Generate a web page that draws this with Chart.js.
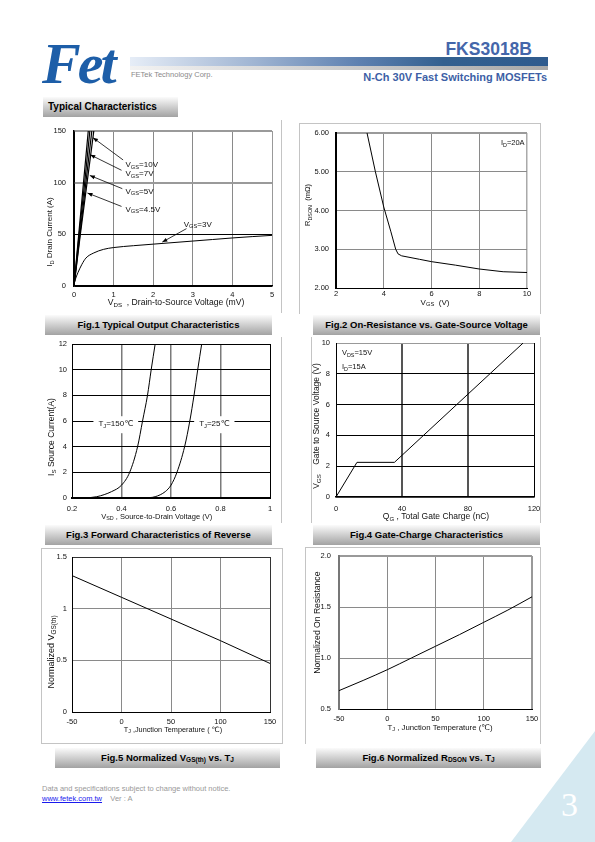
<!DOCTYPE html>
<html>
<head>
<meta charset="utf-8">
<script src="https://cdn.jsdelivr.net/npm/chart.js@4.4.1/dist/chart.umd.min.js"></script>
<style>
  body { margin: 0; width: 595px; height: 842px; position: relative; overflow: hidden; background: #fff;
         font-family: "Liberation Sans", Arial, sans-serif; }
  .a { position: absolute; white-space: nowrap; }
  .cap { position: absolute; height: 20px; line-height: 20px; background: linear-gradient(#fbfbfb, #a2a2a2);
         font-weight: bold; font-size: 9.5px; text-align: center; color: #000; }
  .cap sub { font-size: 6.5px; vertical-align: -1px; line-height: 0; }
  .fr { position: absolute; border: 0 solid #c4c4c4; }
  canvas { position: absolute; }
</style>
</head>
<body>

<!-- cabecera -->
<div class="a" style="left:42px;top:30px;font:italic bold 58px 'Liberation Serif',serif;color:#1d5ea8;letter-spacing:-3px;">Fet</div>
<div class="a" style="left:130px;top:57px;width:418px;height:9px;background:linear-gradient(to right,#e6edf7,#9fb4d2 30%,#5d80b0 55%,#33608f 75%,#2f5b8e);"></div>
<div class="a" style="left:130px;top:66px;width:418px;height:4px;background:linear-gradient(to right,#f2f2f2,#a8a8a8);"></div>
<div class="a" style="left:131px;top:70px;font-size:7.5px;color:#8a8a8a;">FETek Technology Corp.</div>
<div class="a" style="right:63px;top:39px;font-size:17.5px;font-weight:bold;color:#4466aa;">FKS3018B</div>
<div class="a" style="right:48px;top:71px;font-size:11px;font-weight:bold;color:#3d5fa6;">N-Ch 30V Fast Switching MOSFETs</div>

<div class="cap" style="left:43px;top:97px;width:135px;text-align:left;font-size:10px;"><span style="padding-left:5px">Typical Characteristics</span></div>

<!-- marcos -->
<div class="fr" style="left:281px;top:120px;height:193px;border-left-width:1px;"></div>
<div class="fr" style="left:299px;top:123px;width:240px;height:190px;border-width:1px 1px 0 1px;"></div>
<div class="fr" style="left:281px;top:337px;height:186px;border-left-width:1px;"></div>
<div class="fr" style="left:311px;top:337px;width:228px;height:186px;border-width:0 1px 0 1px;"></div>
<div class="fr" style="left:41px;top:548px;width:240px;height:194px;border-width:1px;"></div>
<div class="fr" style="left:305px;top:547px;width:234px;height:196px;border-width:1px 1px 0 1px;"></div>

<div class="cap" style="left:45px;top:315px;width:227px;">Fig.1 Typical Output Characteristics</div>
<div class="cap" style="left:313px;top:315px;width:227px;">Fig.2 On-Resistance vs. Gate-Source Voltage</div>
<div class="cap" style="left:45px;top:525px;width:227px;">Fig.3 Forward Characteristics of Reverse</div>
<div class="cap" style="left:313px;top:525px;width:227px;">Fig.4 Gate-Charge Characteristics</div>
<div class="cap" style="left:55px;top:748px;width:225px;">Fig.5 Normalized V<sub>GS(th)</sub> vs. T<sub>J</sub></div>
<div class="cap" style="left:316px;top:748px;width:225px;">Fig.6 Normalized R<sub>DSON</sub> vs. T<sub>J</sub></div>

<!-- pie -->
<div class="a" style="left:42px;top:784px;font-size:7.5px;color:#999;">Data and specifications subject to change without notice.</div>
<div class="a" style="left:42px;top:794px;font-size:7.5px;color:#999;"><span style="color:#1a1aee;text-decoration:underline;">www.fetek.com.tw</span>&nbsp;&nbsp;&nbsp; Ver : A</div>
<div class="a" style="left:511px;top:731px;width:84px;height:111px;background:#d5e9f1;clip-path:polygon(100% 0,100% 100%,0 100%);"></div>
<div class="a" style="left:561px;top:786px;font:34px 'Liberation Serif',serif;color:#fff;">3</div>

<script>
const FONT = '"Liberation Sans", "DejaVu Sans", Arial, sans-serif';

/* Fig.1  VDS (mV) -> ID (A) */
const idVgs10 = [[0, 0], [0.12, 50], [0.24, 100], [0.36, 150]];
const idVgs7 = [[0, 0], [0.13, 50], [0.27, 100], [0.40, 150]];
const idVgs5 = [[0, 0], [0.15, 50], [0.30, 100], [0.45, 150]];
const idVgs45 = [[0, 0], [0.16, 50], [0.33, 100], [0.50, 150]];
const idVgs3 = [[0, 2], [0.03, 6], [0.1, 13], [0.2, 21], [0.3, 27], [0.5, 32], [0.75, 35.5], [1, 37.2],
                [1.5, 39], [2, 40.5], [2.5, 42], [3, 43.5], [3.5, 45], [4, 46.5], [4.5, 47.8], [5, 49]];

/* Fig.2  VGS (V) -> RDSON (mOhm) */
const rdsVgs = [3.3, 3.65, 4.0, 4.3, 4.5, 4.6, 4.75, 5.5, 6, 7, 8, 9, 10];
const rdsVal = [6.0, 5.0, 4.09, 3.45, 3.0, 2.88, 2.83, 2.74, 2.68, 2.59, 2.49, 2.42, 2.4];

/* Fig.3  IS (A) against VSD (V) */
const isCurrent = [0, 0.1, 0.5, 1, 2, 4, 6, 8, 10, 12];
const vsdTj150 = [0.25, 0.30, 0.36, 0.40, 0.433, 0.465, 0.485, 0.505, 0.52, 0.536];
const vsdTj25 = [0.49, 0.536, 0.577, 0.60, 0.624, 0.655, 0.676, 0.693, 0.708, 0.724];

/* Fig.4  QG (nC) -> VGS (V) */
const gateQ = [0, 12.7, 35.4, 113.4];
const gateV = [0, 2.25, 2.25, 10];

/* Fig.5 / Fig.6  TJ (C) */
const tjVth = [-50, 0, 50, 100, 150];
const vthNorm = [1.32, 1.11, 0.9, 0.69, 0.47];
const tjRds = [-50, -25, 0, 25, 50, 75, 100, 125, 150];
const rdsNorm = [0.68, 0.78, 0.885, 1.0, 1.115, 1.23, 1.35, 1.47, 1.6];

const pairs = (xs, ys) => xs.map((x, i) => [x, ys[i]]);

/* texto con subindices: "V_{GS}=10V" */
function parseRich(s) {
    const out = [];
    const re = /_\{([^}]*)\}/g;
    let last = 0, m;
    while ((m = re.exec(s))) {
        if (m.index > last) out.push([s.slice(last, m.index), 0]);
        out.push([m[1], 1]);
        last = re.lastIndex;
    }
    if (last < s.length) out.push([s.slice(last), 0]);
    return out;
}

function richWidth(ctx, segs, size) {
    let w = 0;
    segs.forEach((s) => {
        ctx.font = (s[1] ? size * 0.72 : size) + 'px ' + FONT;
        s.w = ctx.measureText(s[0]).width;
        w += s.w;
    });
    return w;
}

function drawRich(ctx, str, x, y, size, align, bg) {
    const segs = parseRich(str);
    const w = richWidth(ctx, segs, size);
    let cx = align === 'center' ? x - w / 2 : align === 'right' ? x - w : x;
    if (bg) {
        ctx.fillStyle = '#fff';
        ctx.fillRect(cx - 5, y - size, w + 10, size * 2 + 1);
    }
    ctx.fillStyle = '#111';
    ctx.textBaseline = 'middle';
    ctx.textAlign = 'left';
    segs.forEach((s) => {
        ctx.font = (s[1] ? size * 0.72 : size) + 'px ' + FONT;
        ctx.fillText(s[0], cx, s[1] ? y + size * 0.28 : y);
        cx += s.w;
    });
}

function drawArrow(ctx, x1, y1, x2, y2) {
    const ang = Math.atan2(y2 - y1, x2 - x1);
    ctx.strokeStyle = '#000';
    ctx.fillStyle = '#000';
    ctx.lineWidth = 0.8;
    ctx.beginPath();
    ctx.moveTo(x1, y1);
    ctx.lineTo(x2, y2);
    ctx.stroke();
    ctx.beginPath();
    ctx.moveTo(x2, y2);
    ctx.lineTo(x2 - 5 * Math.cos(ang) + 2 * Math.sin(ang), y2 - 5 * Math.sin(ang) - 2 * Math.cos(ang));
    ctx.lineTo(x2 - 5 * Math.cos(ang) - 2 * Math.sin(ang), y2 - 5 * Math.sin(ang) + 2 * Math.cos(ang));
    ctx.closePath();
    ctx.fill();
}

const sheetPlugin = {
    id: 'sheet',
    beforeDatasetsDraw(chart, args, opts) {
        const ctx = chart.ctx;
        const sx = chart.scales.x, sy = chart.scales.y;
        const [ox, oy] = opts.origin;
        ctx.save();
        (opts.notes || []).forEach((n) => {
            drawRich(ctx, n.text, sx.getPixelForValue(n.x), sy.getPixelForValue(n.y), n.size, n.align, n.bg);
        });
        (opts.arrows || []).forEach((a) => {
            drawArrow(ctx, sx.getPixelForValue(a[0]), sy.getPixelForValue(a[1]),
                      sx.getPixelForValue(a[2]), sy.getPixelForValue(a[3]));
        });
        const xt = opts.xTitle, yt = opts.yTitle;
        drawRich(ctx, xt.text, xt.at[0] - ox, xt.at[1] - oy, xt.size, 'center');
        ctx.translate(yt.at[0] - ox, yt.at[1] - oy);
        ctx.rotate(-Math.PI / 2);
        drawRich(ctx, yt.text, 0, 0, yt.size, 'center');
        ctx.restore();
    }
};

function gridOpts(special, dflt) {
    const pick = (c) => special[String(+c.tick.value.toFixed(3))] || dflt;
    return {
        drawTicks: false,
        color: (c) => pick(c)[0],
        lineWidth: (c) => pick(c)[1]
    };
}

function noPad(s) {
    s.paddingLeft = 0;
    s.paddingRight = 0;
    s.paddingTop = 0;
    s.paddingBottom = 0;
}

function axis(a, fit) {
    return {
        type: 'linear',
        min: a.min,
        max: a.max,
        ticks: {
            stepSize: a.step,
            padding: a.pad,
            color: '#111',
            font: { family: FONT, size: a.font || 7.5 },
            maxRotation: 0,
            autoSkip: false,
            callback: a.fmt || ((v) => String(+v.toFixed(2)))
        },
        grid: gridOpts(a.grid[0], a.grid[1]),
        border: { color: a.border[0], width: a.border[1] },
        afterFit: (s) => { fit(s); noPad(s); }
    };
}

function makeChart(spec) {
    const [L, T, R, B] = spec.plot;
    const yw = 40, xh = 30, pt = 8, pr = 8;
    const cl = L - yw, ct = T - pt;
    const cv = document.createElement('canvas');
    cv.width = R - L + yw + pr;
    cv.height = B - T + pt + xh;
    cv.style.left = cl + 'px';
    cv.style.top = ct + 'px';
    document.body.appendChild(cv);

    new Chart(cv, {
        type: 'line',
        data: {
            datasets: spec.lines.map((l) => ({
                data: l.pts.map((p) => ({ x: p[0], y: p[1] })),
                borderColor: '#000',
                borderWidth: l.w || 1,
                pointRadius: 0,
                fill: false,
                cubicInterpolationMode: l.smooth ? 'monotone' : 'default',
                tension: 0
            }))
        },
        options: {
            responsive: false,
            animation: false,
            devicePixelRatio: 1,
            layout: { padding: { top: pt, right: pr, left: 0, bottom: 0 }, autoPadding: false },
            plugins: {
                legend: { display: false },
                tooltip: { enabled: false },
                sheet: Object.assign({ origin: [cl, ct] }, spec.sheet)
            },
            scales: {
                x: axis(spec.x, (s) => { s.height = xh; }),
                y: axis(spec.y, (s) => { s.width = yw; })
            }
        },
        plugins: [sheetPlugin]
    });
}

/* Fig.1 */
makeChart({
    plot: [74, 131, 272, 286],
    lines: [
        { pts: idVgs10, w: 1.2 }, { pts: idVgs7, w: 1.2 }, { pts: idVgs5, w: 1.2 }, { pts: idVgs45, w: 1.2 },
        { pts: idVgs3, smooth: true }
    ],
    x: { min: 0, max: 5, step: 1, pad: 4, grid: [{ '0': ['#000', 1], '5': ['#999', 1] }, ['#8a8a8a', 1]], border: ['#000', 1.5] },
    y: { min: 0, max: 150, step: 50, pad: 8, grid: [{ '0': ['#000', 1], '50': ['#000', 1], '100': ['#9a9a9a', 2], '150': ['#9a9a9a', 2] }, ['#8a8a8a', 1]], border: ['#000', 1.5] },
    sheet: {
        xTitle: { text: 'V_{DS}  , Drain-to-Source Voltage (mV)', at: [176, 302.5], size: 8.6 },
        yTitle: { text: 'I_{D} Drain Current (A)', at: [50, 232], size: 8 },
        notes: [
            { text: 'V_{GS}=10V', x: 1.3, y: 117.4, size: 8, align: 'left' },
            { text: 'V_{GS}=7V', x: 1.3, y: 108.7, size: 8, align: 'left' },
            { text: 'V_{GS}=5V', x: 1.3, y: 91.6, size: 8, align: 'left' },
            { text: 'V_{GS}=4.5V', x: 1.3, y: 73.9, size: 8, align: 'left' },
            { text: 'V_{GS}=3V', x: 2.77, y: 59.4, size: 8, align: 'left' }
        ],
        arrows: [[1.24, 122, 0.48, 143.5], [1.2, 112, 0.41, 127], [1.22, 94.2, 0.4, 107], [1.2, 77, 0.34, 90], [2.84, 55.5, 2.23, 42.5]]
    }
});

/* Fig.2 */
makeChart({
    plot: [336, 133, 527, 288],
    lines: [{ pts: pairs(rdsVgs, rdsVal) }],
    x: { min: 2, max: 10, step: 2, pad: 1, grid: [{ '2': ['#000', 2], '10': ['#aaa', 1.5] }, ['#8a8a8a', 1]], border: ['#000', 1] },
    y: { min: 2, max: 6, step: 1, pad: 7, fmt: (v) => v.toFixed(2), grid: [{ '2': ['#000', 1], '6': ['#9a9a9a', 2] }, ['#8a8a8a', 1]], border: ['#000', 2] },
    sheet: {
        xTitle: { text: 'V_{GS}  (V)', at: [435, 302.5], size: 8 },
        yTitle: { text: 'R_{DSON}  (mΩ)', at: [308, 205], size: 7.5 },
        notes: [{ text: 'I_{D}=20A', x: 9.9, y: 5.74, size: 7.5, align: 'right' }]
    }
});

/* Fig.3 */
makeChart({
    plot: [72, 344, 270, 498],
    lines: [
        { pts: pairs(vsdTj150, isCurrent), smooth: true },
        { pts: pairs(vsdTj25, isCurrent), smooth: true }
    ],
    x: { min: 0.2, max: 1, step: 0.2, pad: 6, fmt: (v) => String(+v.toFixed(1)), grid: [{ '0.2': ['#000', 1], '1': ['#000', 1] }, ['#7a7a7a', 1.5]], border: ['#000', 2] },
    y: { min: 0, max: 12, step: 2, pad: 5, grid: [{ '0': ['#000', 2] }, ['#000', 1]], border: ['#000', 1] },
    sheet: {
        xTitle: { text: 'V_{SD} , Source-to-Drain Voltage (V)', at: [156.7, 516.7], size: 7.5 },
        yTitle: { text: 'I_{S} Source Current(A)', at: [52, 437], size: 8.5 },
        notes: [
            { text: 'T_{J}=150℃', x: 0.377, y: 5.75, size: 8, align: 'center', bg: true },
            { text: 'T_{J}=25℃', x: 0.775, y: 5.75, size: 8, align: 'center', bg: true }
        ]
    }
});

/* Fig.4 */
makeChart({
    plot: [336, 343, 534, 497],
    lines: [{ pts: pairs(gateQ, gateV) }],
    x: { min: 0, max: 120, step: 40, pad: 7, grid: [{ '0': ['#000', 1], '120': ['#000', 1] }, ['#555', 2]], border: ['#000', 1.5] },
    y: { min: 0, max: 10, step: 2, pad: 6, grid: [{ '0': ['#000', 1.5], '10': ['#999', 1] }, ['#000', 1]], border: ['#000', 1] },
    sheet: {
        xTitle: { text: 'Q_{G} , Total Gate Charge (nC)', at: [436, 516.7], size: 8.5 },
        yTitle: { text: 'V_{GS}    Gate to Source Voltage (V)', at: [316.7, 426], size: 8.5 },
        notes: [
            { text: 'V_{DS}=15V', x: 3.6, y: 9.35, size: 7.5, align: 'left' },
            { text: 'I_{D}=15A', x: 3.6, y: 8.43, size: 7.5, align: 'left' }
        ]
    }
});

/* Fig.5 */
makeChart({
    plot: [72, 557, 270, 712],
    lines: [{ pts: pairs(tjVth, vthNorm) }],
    x: { min: -50, max: 150, step: 50, pad: 5, grid: [{ '-50': ['#000', 1], '150': ['#333', 1] }, ['#8a8a8a', 1]], border: ['#000', 1] },
    y: { min: 0, max: 1.5, step: 0.5, pad: 5, grid: [{ '0': ['#000', 1], '1.5': ['#333', 1] }, ['#8a8a8a', 1]], border: ['#000', 1] },
    sheet: {
        xTitle: { text: 'T_{J} ,Junction Temperature ( ℃)', at: [173, 730], size: 7.3 },
        yTitle: { text: 'Normalized V_{GS(th)}', at: [51.7, 652], size: 9 }
    }
});

/* Fig.6 */
makeChart({
    plot: [339, 556, 532, 709],
    lines: [{ pts: pairs(tjRds, rdsNorm), smooth: true }],
    x: { min: -50, max: 150, step: 50, pad: 5, grid: [{ '-50': ['#777', 2], '150': ['#999', 2] }, ['#8a8a8a', 1]], border: ['#000', 1] },
    y: { min: 0.5, max: 2, step: 0.5, pad: 8, fmt: (v) => v.toFixed(1), grid: [{ '0.5': ['#000', 1], '2': ['#999', 2] }, ['#8a8a8a', 1]], border: ['#777', 2] },
    sheet: {
        xTitle: { text: 'T_{J} , Junction Temperature (℃)', at: [440, 727.7], size: 7.8 },
        yTitle: { text: 'Normalized On Resistance', at: [318, 622.7], size: 8.6 }
    }
});
</script>
</body>
</html>
